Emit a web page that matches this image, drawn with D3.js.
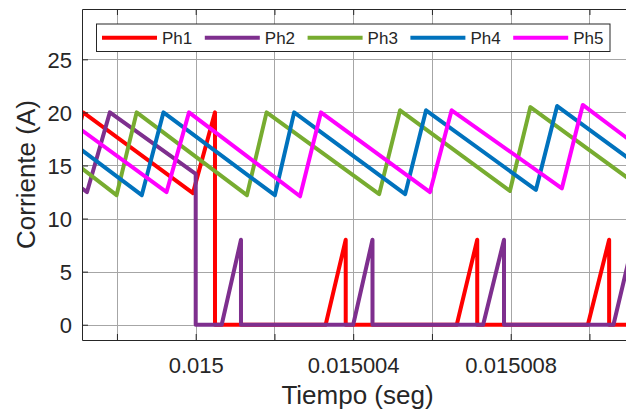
<!DOCTYPE html>
<html>
<head>
<meta charset="utf-8">
<script src="https://cdn.jsdelivr.net/npm/d3@7"></script>
<style>
  html, body { margin: 0; padding: 0; background: #fff; }
  svg { display: block; }
  text { font-family: "Liberation Sans", Arial, Helvetica, sans-serif; fill: #262626; }
</style>
</head>
<body>
<svg id="chart" width="626" height="417"></svg>
<script>
// Phase currents of a 5-phase interleaved converter around t = 0.015 s
// (phases 1 and 2 drop into discontinuous conduction after 0.015 s).
const seriesNames = ["Ph1", "Ph2", "Ph3", "Ph4", "Ph5"];
const seriesColors = ["#FF0000", "#7E2F8E", "#77AC30", "#0072BD", "#FF00FF"];

const ph1Time = [0.0149966, 0.01499714, 0.01499993, 0.01500049, 0.01500049, 0.0150033, 0.01500381, 0.01500381,
                 0.01500663, 0.01500715, 0.01500715, 0.01500996, 0.0150105, 0.0150105, 0.0150115];
const ph1Amp  = [12.4, 20.0, 12.4, 20.0, 0, 0, 8.0, 0, 0, 8.0, 0, 0, 8.0, 0, 0];

const ph2Time = [0.01499694, 0.01499724, 0.01499782, 0.015, 0.015, 0.01500066, 0.01500115, 0.01500115,
                 0.015004, 0.01500449, 0.01500449, 0.0150073, 0.01500783, 0.01500783, 0.01501061, 0.01501112];
const ph2Amp  = [13.3, 12.5, 20.0, 14.2, 0, 0, 8.0, 0, 0, 8.0, 0, 0, 8.0, 0, 0, 8.0];

const ph3Time = [0.0149968, 0.01499799, 0.0149985, 0.0150013, 0.0150018, 0.01500466, 0.01500519, 0.01500798, 0.0150085, 0.01501131];
const ph3Amp  = [15.6, 12.2, 20.0, 12.2, 20.0, 12.3, 20.2, 12.6, 20.5, 12.9];

const ph4Time = [0.0149968, 0.01499863, 0.01499918, 0.01500201, 0.0150025, 0.01500532, 0.01500585, 0.01500864, 0.01500918, 0.01501197];
const ph4Amp  = [17.3, 12.2, 20.0, 12.2, 20.0, 12.3, 20.2, 12.7, 20.6, 13.0];

const ph5Time = [0.0149968, 0.01499926, 0.01499983, 0.01500265, 0.01500318, 0.01500595, 0.0150065, 0.0150093, 0.01500983, 0.0150126];
const ph5Amp  = [19.15, 12.5, 20.0, 12.1, 20.0, 12.5, 20.2, 12.85, 20.7, 13.0];

const xTickValues = [0.014998, 0.015, 0.015002, 0.015004, 0.015006, 0.015008, 0.01501];
const xTickLabels = ["", "0.015", "", "0.015004", "", "0.015008", ""];
const yTickValues = [0, 5, 10, 15, 20, 25];
const yTickLabels = ["0", "5", "10", "15", "20", "25"];

const xDomain = [0.0149971124, 0.0150111060];
const yDomain = [-1.44, 29.74];

const xLabel = "Tiempo (seg)";
const yLabel = "Corriente (A)";

const seriesTimes = [ph1Time, ph2Time, ph3Time, ph4Time, ph5Time];
const seriesAmps = [ph1Amp, ph2Amp, ph3Amp, ph4Amp, ph5Amp];

// ---- layout ----
const plot = { left: 82, right: 633, top: 9, bottom: 340 };
const svg = d3.select("#chart");

const x = d3.scaleLinear().domain(xDomain).range([plot.left, plot.right]);
const y = d3.scaleLinear().domain(yDomain).range([plot.bottom, plot.top]);

svg.append("defs").append("clipPath").attr("id", "plotClip")
  .append("rect")
  .attr("x", plot.left).attr("y", plot.top)
  .attr("width", plot.right - plot.left).attr("height", plot.bottom - plot.top);

// background
svg.append("rect")
  .attr("x", plot.left).attr("y", plot.top)
  .attr("width", plot.right - plot.left).attr("height", plot.bottom - plot.top)
  .attr("fill", "#fff");

// grid
const grid = svg.append("g").attr("stroke", "#a6a6a6").attr("stroke-width", 1);
grid.selectAll("line.vx").data(xTickValues).join("line")
  .attr("x1", d => Math.round(x(d)) + 0.5).attr("x2", d => Math.round(x(d)) + 0.5)
  .attr("y1", plot.top).attr("y2", plot.bottom);
grid.selectAll("line.hy").data(yTickValues).join("line")
  .attr("y1", d => Math.round(y(d)) + 0.5).attr("y2", d => Math.round(y(d)) + 0.5)
  .attr("x1", plot.left).attr("x2", plot.right);

// series
const line = d3.line().x(d => x(d[0])).y(d => y(d[1]));
const lines = svg.append("g").attr("clip-path", "url(#plotClip)");
seriesNames.forEach((name, i) => {
  const pts = seriesTimes[i].map((t, k) => [t, seriesAmps[i][k]]);
  lines.append("path")
    .datum(pts)
    .attr("d", line)
    .attr("fill", "none")
    .attr("stroke", seriesColors[i])
    .attr("stroke-width", 4)
    .attr("stroke-linejoin", "round")
    .attr("stroke-linecap", "round");
});

// axes (ticks point inward)
const xAxis = d3.axisBottom(x)
  .tickValues(xTickValues)
  .tickFormat((d, i) => xTickLabels[i])
  .tickSizeInner(-6).tickSizeOuter(0).tickPadding(17);
const gx = svg.append("g").attr("transform", `translate(0,${plot.bottom})`).call(xAxis);

const xTop = d3.axisTop(x)
  .tickValues(xTickValues).tickFormat("")
  .tickSizeInner(-6).tickSizeOuter(0);
const gxt = svg.append("g").attr("transform", `translate(0,${plot.top})`).call(xTop);

const yAxis = d3.axisLeft(y)
  .tickValues(yTickValues)
  .tickFormat((d, i) => yTickLabels[i])
  .tickSizeInner(-6).tickSizeOuter(0).tickPadding(10);
const gy = svg.append("g").attr("transform", `translate(${plot.left},0)`).call(yAxis);

[gx, gxt, gy].forEach(g => {
  g.select(".domain").attr("stroke", "#262626").attr("stroke-width", 1);
  g.selectAll(".tick line").attr("stroke", "#262626");
  g.selectAll(".tick text").attr("font-size", 22).attr("fill", "#262626")
    .style("font-family", '"Liberation Sans", Arial, Helvetica, sans-serif');
});
gy.selectAll(".tick text").attr("dy", "0.36em");

// axis labels
svg.append("text")
  .attr("x", (plot.left + plot.right) / 2).attr("y", 404)
  .attr("text-anchor", "middle").attr("font-size", 26)
  .text(xLabel);
svg.append("text")
  .attr("transform", `translate(35,${(plot.top + plot.bottom) / 2}) rotate(-90)`)
  .attr("text-anchor", "middle").attr("font-size", 26)
  .text(yLabel);

// legend
const legend = { x: 96.5, y: 24, w: 513.5, h: 27.5, step: 102.8, lineLen: 55, pad: 5.5 };
const lg = svg.append("g");
lg.append("rect")
  .attr("x", legend.x).attr("y", legend.y)
  .attr("width", legend.w).attr("height", legend.h)
  .attr("fill", "#fff").attr("stroke", "#262626").attr("stroke-width", 1);
seriesNames.forEach((name, i) => {
  const x0 = legend.x + legend.pad + i * legend.step;
  const yc = legend.y + legend.h / 2;
  lg.append("line")
    .attr("x1", x0).attr("x2", x0 + legend.lineLen)
    .attr("y1", yc).attr("y2", yc)
    .attr("stroke", seriesColors[i]).attr("stroke-width", 4);
  lg.append("text")
    .attr("x", x0 + legend.lineLen + 5).attr("y", yc + 6.5)
    .attr("font-size", 17)
    .text(name);
});
</script>
</body>
</html>
